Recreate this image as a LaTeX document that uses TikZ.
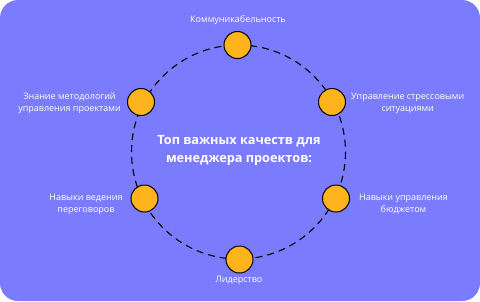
\documentclass[tikz,border=0pt]{standalone}
\usepackage{fontspec}
\setmainfont{Open Sans}
\definecolor{bgpurple}{HTML}{7B7BFE}
\definecolor{dotorange}{HTML}{FFB31C}
\begin{document}
\begin{tikzpicture}[x=1pt,y=-1pt,
  dot/.style={circle,draw=black,line width=1pt,fill=dotorange,minimum size=27pt,inner sep=0pt},
  lbl/.style={text=white,font=\fontsize{9}{12}\selectfont,align=center,inner sep=0pt},
  ttl/.style={text=white,font=\bfseries\fontsize{12.7}{17.5}\selectfont,align=center,inner sep=0pt}]
\useasboundingbox (0,0) rectangle (480,301);
\fill[bgpurple,rounded corners=18pt] (0,0) rectangle (480,301);
\coordinate (c) at (238.5,152);
\draw[black,line width=1.1pt,dash pattern=on 7pt off 5pt] (c) circle[radius=107];
\node[dot] (d1) at (237.5,45) {};
\node[dot] (d2) at (332,102) {};
\node[dot] (d3) at (336,198.5) {};
\node[dot] (d4) at (239.5,259.5) {};
\node[dot] (d5) at (144.5,198.5) {};
\node[dot] (d6) at (141,102) {};
\node[lbl] (l1) at (238,20.5) {Коммуникабельность};
\node[lbl] (l2) at (407.7,103) {Управление стрессовыми\\ситуациями};
\node[lbl] (l3) at (403.5,204) {Навыки управления\\бюджетом};
\node[lbl] (l4) at (239,280) {Лидерство};
\node[lbl] (l5) at (86,204) {Навыки ведения\\переговоров};
\node[lbl] (l6) at (69.5,103) {Знание методологий\\управления проектами};
\node[ttl] (t) at (239,150.5) {Топ важных качеств для\\менеджера проектов:};
\end{tikzpicture}
\end{document}
